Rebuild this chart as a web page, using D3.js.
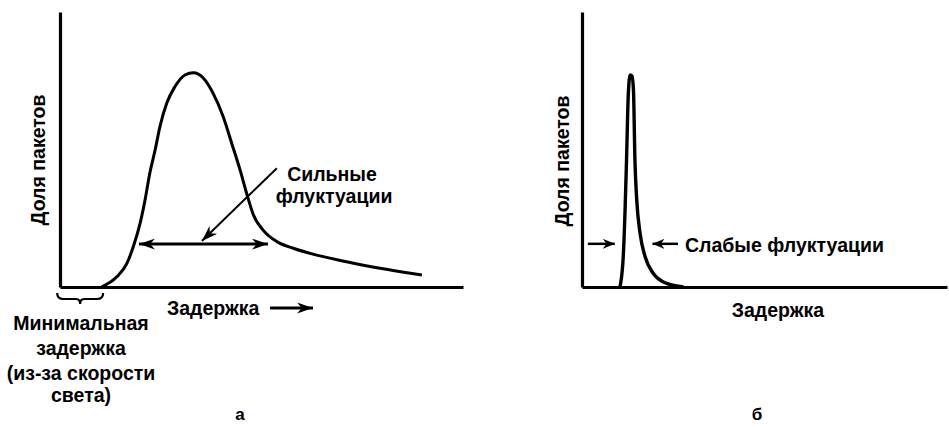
<!DOCTYPE html>
<html><head><meta charset="utf-8">
<script src="https://cdn.jsdelivr.net/npm/d3@7"></script>
<style>
html,body{margin:0;padding:0;background:#fff;}
svg text{font-family:"Liberation Sans",Arial,sans-serif;font-weight:bold;fill:#000;}
</style></head>
<body><svg id="c" width="949" height="427"></svg>
<script>
// Panel (a): strong jitter — delay distribution (arbitrary units 0..100)
const delayA = [10.3,14.1,16.6,18.2,19.9,21.1,22.3,23.6,24.8,26.5,28.5,31.0,33.1,35.6,38.0,40.5,42.6,44.7,46.3,48.0,50.4,53.8,57.9,63.7,71.1,79.4,89.8];
const shareA = [0,3.7,8.6,14.7,23.3,31.6,41.5,49.8,58.3,66.9,72.8,77.1,77.9,75.9,70.4,61.9,52.3,42.5,34.1,26.2,20.7,16.5,14.1,11.6,9.2,6.8,4.4];
// Panel (б): weak jitter
const delayB = [10.4,11.3,11.8,12.2,12.7,13.2,13.7,14.1,14.5,15.0,15.9,17.3,19.5,23.2,27.8];
const shareB = [0,11.0,28.0,46.2,70.5,77.1,76.7,71.6,46.2,31.6,19.6,11.0,5.0,1.3,0];
// Annotations (in data units)
const spreadA = [19.6, 51.6];      // double arrow extent, panel a
const spreadLevelA = 15.6;
const pointerA = {from:[53.8,43.2], to:[35.2,16.7]};
const minDelay = [-0.7, 10.7];     // brace extent
const weakArrowsB = {level:15.7, left:[1.6,9.0], right:[19.3,26.3]};
const texts = {
  yLabel:"Доля пакетов", xLabel:"Задержка",
  strong:["Сильные","флуктуации"], weak:"Слабые флуктуации",
  minDelay:["Минимальная","задержка","(из-за скорости","света)"],
  a:"а", b:"б"
};

const svg = d3.select("#c");
const defs = svg.append("defs");
function marker(id, w, h){
  defs.append("marker").attr("id",id).attr("viewBox",`0 0 ${w} ${h}`)
    .attr("refX",w).attr("refY",h/2).attr("markerWidth",w).attr("markerHeight",h)
    .attr("markerUnits","userSpaceOnUse").attr("orient","auto-start-reverse")
    .append("path").attr("d",`M0,0L${w},${h/2}L0,${h}L${w*0.3},${h/2}Z`).attr("fill","#000");
}
marker("ah",16,11);
marker("ahs",12,10);

const yS = d3.scaleLinear().domain([0,100]).range([287,12]);
const xA = d3.scaleLinear().domain([0,100]).range([60,463]);
const xB = d3.scaleLinear().domain([0,100]).range([582,947]);

function axes(xs){
  const g = svg.append("g");
  g.append("g").attr("transform",`translate(0,${yS(0)})`)
    .call(d3.axisBottom(xs).tickValues([]).tickSizeOuter(0))
    .call(s=>s.select(".domain").attr("stroke","#000").attr("stroke-width",3.2));
  g.append("g").attr("transform",`translate(${xs(0)},0)`)
    .call(d3.axisLeft(yS).tickValues([]).tickSizeOuter(0))
    .call(s=>s.select(".domain").attr("stroke","#000").attr("stroke-width",3.2));
}
axes(xA); axes(xB);

const lineA = d3.line().x(d=>xA(d[0])).y(d=>yS(d[1])).curve(d3.curveMonotoneX);
const lineB = d3.line().x(d=>xB(d[0])).y(d=>yS(d[1])).curve(d3.curveMonotoneX);
svg.append("path").datum(d3.zip(delayA,shareA)).attr("d",lineA)
  .attr("fill","none").attr("stroke","#000").attr("stroke-width",3);
svg.append("path").datum(d3.zip(delayB,shareB)).attr("d",lineB)
  .attr("fill","none").attr("stroke","#000").attr("stroke-width",3.4);

// double arrow
svg.append("line").attr("x1",xA(spreadA[0])).attr("x2",xA(spreadA[1]))
  .attr("y1",yS(spreadLevelA)).attr("y2",yS(spreadLevelA))
  .attr("stroke","#000").attr("stroke-width",3)
  .attr("marker-start","url(#ah)").attr("marker-end","url(#ah)");
// pointer arrow
svg.append("line").attr("x1",xA(pointerA.from[0])).attr("y1",yS(pointerA.from[1]))
  .attr("x2",xA(pointerA.to[0])).attr("y2",yS(pointerA.to[1]))
  .attr("stroke","#000").attr("stroke-width",2).attr("marker-end","url(#ah)");

const fs = 19.5;
function txt(x,y,s,anchor="middle",size=fs){
  return svg.append("text").attr("x",x).attr("y",y).attr("dy","0.35em")
    .attr("text-anchor",anchor).attr("font-size",size).text(s);
}
txt(332,174,texts.strong[0]);
txt(334,196,texts.strong[1]);

// y labels
svg.append("text").attr("transform","translate(38,160) rotate(-90)").attr("dy","0.35em")
  .attr("text-anchor","middle").attr("font-size",fs).text(texts.yLabel);
svg.append("text").attr("transform","translate(562,161) rotate(-90)").attr("dy","0.35em")
  .attr("text-anchor","middle").attr("font-size",fs).text(texts.yLabel);

// brace
{
  const x0 = xA(minDelay[0]), x1 = xA(minDelay[1]), xm=(x0+x1)/2, yt=293, yb=300;
  svg.append("path").attr("d",
    `M${x0},${yt} Q${x0},${yb-1} ${x0+6},${yb-1} L${xm-4},${yb-1} Q${xm},${yb-1} ${xm},${yb+4} Q${xm},${yb-1} ${xm+4},${yb-1} L${x1-6},${yb-1} Q${x1},${yb-1} ${x1},${yt}`)
    .attr("fill","none").attr("stroke","#000").attr("stroke-width",2.2);
}
// x label a + arrow
txt(167,308,texts.xLabel,"start");
svg.append("line").attr("x1",270).attr("x2",313).attr("y1",308).attr("y2",308)
  .attr("stroke","#000").attr("stroke-width",3).attr("marker-end","url(#ah)");
texts.minDelay.forEach((s,i)=>txt(81,[323,348,373,395][i],s));
svg.append("text").attr("x",240).attr("y",420).attr("text-anchor","middle")
  .attr("font-size",17).text(texts.a);

// panel b arrows
svg.append("line").attr("x1",xB(weakArrowsB.left[0])).attr("x2",xB(weakArrowsB.left[1]))
  .attr("y1",yS(weakArrowsB.level)).attr("y2",yS(weakArrowsB.level))
  .attr("stroke","#000").attr("stroke-width",2.5).attr("marker-end","url(#ahs)");
svg.append("line").attr("x1",xB(weakArrowsB.right[1])).attr("x2",xB(weakArrowsB.right[0]))
  .attr("y1",yS(weakArrowsB.level)).attr("y2",yS(weakArrowsB.level))
  .attr("stroke","#000").attr("stroke-width",2.5).attr("marker-end","url(#ahs)");
txt(685,245,texts.weak,"start");
txt(778,310,texts.xLabel);
svg.append("text").attr("x",757).attr("y",420).attr("text-anchor","middle")
  .attr("font-size",17).text(texts.b);
</script></body></html>
